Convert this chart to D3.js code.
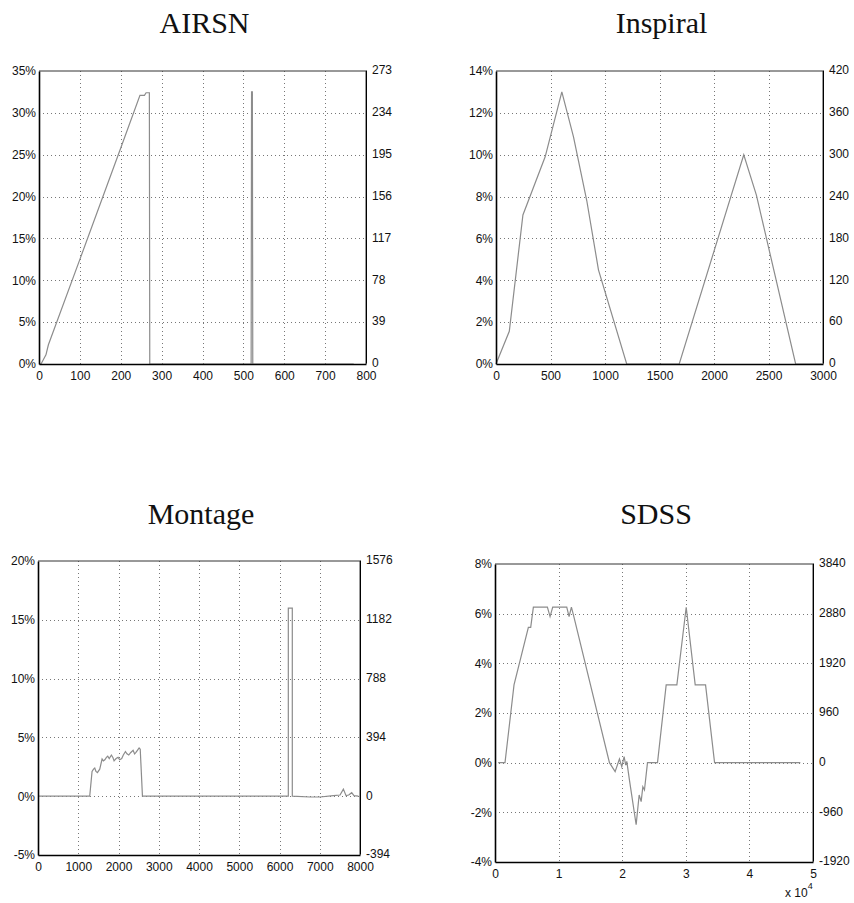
<!DOCTYPE html>
<html>
<head>
<meta charset="utf-8">
<script src="https://cdn.jsdelivr.net/npm/d3@7"></script>
<style>
  body { margin: 0; background: #fff; }
  svg { display: block; }
</style>
</head>
<body>
<div id="chart"></div>
<script>
// ---- data: [x, percent] ----
const airsnPoints = [[0,0],[5,0],[17,1.1],[23,2.3],[100,12.5],[200,25.8],[247,32.1],[258,32.1],[262,32.4],[270,32.4],[271,0],
  [519,0],[520,32.5],[522,32.5],[523,0],[770,0]];
const airsnLeftTicks = [0,5,10,15,20,25,30,35];
const airsnRightTicks = [0,39,78,117,156,195,234,273];
const airsnXTicks = [0,100,200,300,400,500,600,700,800];

const inspiralPoints = [[0,0],[122,1.56],[247,7.12],[451,9.9],[604,13.0],[711,10.85],[833,7.8],[940,4.5],[1199,0],
  [1681,0],[2273,10.0],[2389,8.07],[2749,0],[2990,0]];
const inspiralLeftTicks = [0,2,4,6,8,10,12,14];
const inspiralRightTicks = [0,60,120,180,240,300,360,420];
const inspiralXTicks = [0,500,1000,1500,2000,2500,3000];

const montagePoints = [[0,0],[1285,0],[1343,2.1],[1380,2.3],[1410,2.4],[1440,2.1],[1476,2.0],[1534,2.3],[1592,3.16],[1625,3.0],
  [1660,3.1],[1700,3.3],[1733,3.4],[1770,3.2],[1824,3.5],[1860,3.3],[1890,3.0],[1940,3.2],[1990,3.3],[2030,3.1],[2080,3.2],
  [2120,3.5],[2172,3.8],[2210,3.6],[2255,3.5],[2300,3.7],[2363,3.9],[2400,3.6],[2429,3.7],[2470,3.9],[2512,4.1],[2540,4.0],
  [2595,0],[6219,0],[6219,16.0],[6318,16.0],[6318,0],[6758,-0.07],[7007,-0.07],[7338,0.05],[7504,0.1],[7587,0.6],[7653,0.05],
  [7720,0.1],[7794,0.3],[7850,0.05],[7960,0]];
const montageLeftTicks = [-5,0,5,10,15,20];
const montageRightTicks = [-394,0,394,788,1182,1576];
const montageXTicks = [0,1000,2000,3000,4000,5000,6000,7000,8000];

const sdssPoints = [[500,0],[1574,0],[2990,3.13],[5247,5.45],[5614,5.45],[6034,6.26],[8237,6.26],[8657,5.88],[9077,6.26],
  [11280,6.26],[11647,5.88],[12015,6.26],[12330,5.95],[17995,0],[18888,-0.36],[19565,0.15],[19932,-0.16],[20304,0.24],
  [20550,-0.1],[20724,0.05],[21141,-0.7],[22193,-2.5],[22665,-1.3],[22979,-1.57],[23245,-0.97],[23500,-1.1],[23977,0],
  [25551,0],[26915,3.13],[28594,3.13],[30063,6.26],[31480,3.13],[33106,3.13],[34522,0],[48006,0]];
const sdssLeftTicks = [-4,-2,0,2,4,6,8];
const sdssRightTicks = [-1920,-960,0,960,1920,2880,3840];
const sdssXTicks = [0,10000,20000,30000,40000,50000];

const panels = [
  {title: "AIRSN", points: airsnPoints, left: 39, top: 71, right: 366, bottom: 364, titleY: 33,
   xDomain: [0,800], yDomain: [0,35], leftTicks: airsnLeftTicks, rightTicks: airsnRightTicks, xTicks: airsnXTicks},
  {title: "Inspiral", points: inspiralPoints, left: 496, top: 71, right: 823, bottom: 364, titleY: 33,
   xDomain: [0,3000], yDomain: [0,14], leftTicks: inspiralLeftTicks, rightTicks: inspiralRightTicks, xTicks: inspiralXTicks},
  {title: "Montage", points: montagePoints, left: 38, top: 561, right: 360, bottom: 855, titleY: 524,
   xDomain: [0,8000], yDomain: [-5,20], leftTicks: montageLeftTicks, rightTicks: montageRightTicks, xTicks: montageXTicks},
  {title: "SDSS", points: sdssPoints, left: 495, top: 564, right: 813, bottom: 862, titleY: 524,
   xDomain: [0,50000], yDomain: [-4,8], leftTicks: sdssLeftTicks, rightTicks: sdssRightTicks, xTicks: sdssXTicks, xScaleLabel: true}
];

const width = 854, height = 903;
const svg = d3.select("#chart").append("svg").attr("width", width).attr("height", height);
svg.append("rect").attr("width", width).attr("height", height).attr("fill", "#fff");

const tickFont = "'Liberation Sans', Arial, sans-serif";

panels.forEach(p => {
  const g = svg.append("g");
  const x = d3.scaleLinear().domain(p.xDomain).range([p.left, p.right]);
  const y = d3.scaleLinear().domain(p.yDomain).range([p.bottom, p.top]);
  const yR = d3.scaleLinear().domain([p.rightTicks[0], p.rightTicks[p.rightTicks.length - 1]]).range([p.bottom, p.top]);

  // title
  g.append("text")
    .attr("x", (p.left + p.right) / 2 + 2)
    .attr("y", p.titleY)
    .attr("text-anchor", "middle")
    .attr("font-family", "'Liberation Serif', 'DejaVu Serif', serif")
    .attr("font-size", "30px")
    .attr("fill", "#111")
    .text(p.title);

  // dotted grid
  g.selectAll(".gx").data(p.xTicks.slice(1, -1)).enter().append("line")
    .attr("x1", d => Math.round(x(d)) + 0.5).attr("x2", d => Math.round(x(d)) + 0.5)
    .attr("y1", p.top).attr("y2", p.bottom)
    .attr("stroke", "#777").attr("stroke-width", 1).attr("stroke-dasharray", "1,3");
  g.selectAll(".gy").data(p.leftTicks.slice(1, -1)).enter().append("line")
    .attr("x1", p.left).attr("x2", p.right)
    .attr("y1", d => Math.round(y(d)) + 0.5).attr("y2", d => Math.round(y(d)) + 0.5)
    .attr("stroke", "#777").attr("stroke-width", 1).attr("stroke-dasharray", "1,3");

  // data line
  const line = d3.line().x(d => x(d[0])).y(d => y(d[1]));
  g.append("path")
    .datum(p.points)
    .attr("d", line)
    .attr("fill", "none")
    .attr("stroke", "#8c8c8c")
    .attr("stroke-width", 1.2);

  // frame
  g.append("line").attr("x1", p.left).attr("x2", p.right).attr("y1", p.top).attr("y2", p.top)
    .attr("stroke", "#333").attr("stroke-width", 1);
  g.append("line").attr("x1", p.right).attr("x2", p.right).attr("y1", p.top).attr("y2", p.bottom)
    .attr("stroke", "#333").attr("stroke-width", 1);

  // axes
  const leftAxis = d3.axisLeft(y).tickValues(p.leftTicks).tickSize(0).tickPadding(3).tickFormat(d => d + "%");
  const rightAxis = d3.axisRight(yR).tickValues(p.rightTicks).tickSize(0).tickPadding(6).tickFormat(d => d);
  const bottomAxis = d3.axisBottom(x).tickValues(p.xTicks).tickSize(0).tickPadding(7)
    .tickFormat(d => p.xScaleLabel ? d / 10000 : d);

  const styleAxis = (sel, sw, fs) => {
    sel.select(".domain").attr("stroke", "#000").attr("stroke-width", sw);
    sel.selectAll("text").attr("font-family", tickFont).attr("font-size", fs).attr("fill", "#111");
  };
  g.append("g").attr("transform", `translate(${p.right},-1)`).call(rightAxis).call(s => styleAxis(s, 1, "12px"));
  g.append("g").attr("transform", `translate(0,${p.bottom})`).call(bottomAxis).call(s => styleAxis(s, 1.6, "12px"));
  g.append("g").attr("transform", `translate(${p.left},0)`).call(leftAxis).call(s => styleAxis(s, 1.6, "12px"));

  if (p.xScaleLabel) {
    const t = g.append("text")
      .attr("x", p.right - 28)
      .attr("y", p.bottom + 35)
      .attr("font-family", tickFont)
      .attr("font-size", "12px")
      .attr("fill", "#111");
    t.append("tspan").text("x 10");
    t.append("tspan").attr("dy", -8).attr("font-size", "9px").text("4");
  }
});
</script>
</body>
</html>
